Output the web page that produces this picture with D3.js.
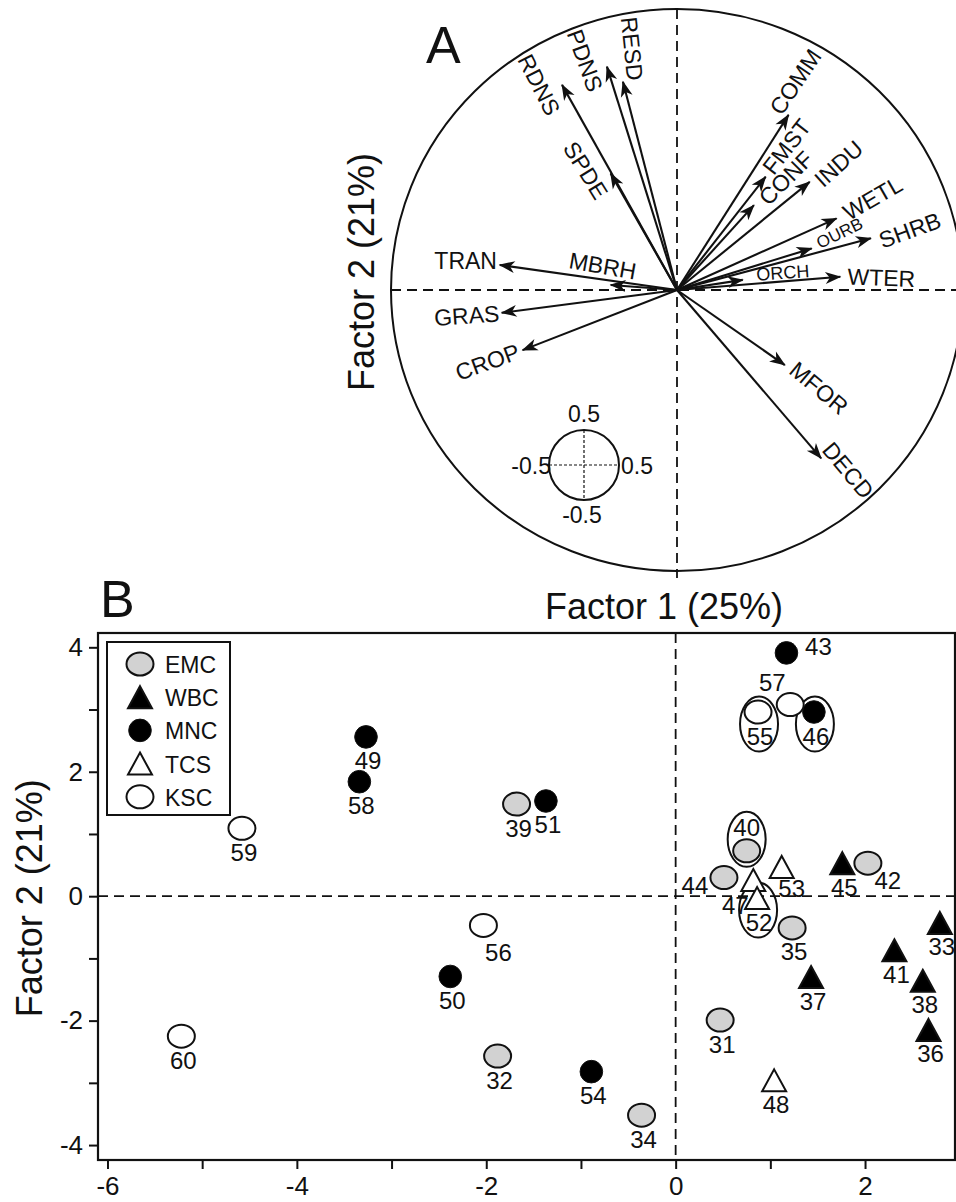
<!DOCTYPE html>
<html><head><meta charset="utf-8">
<script src="https://cdn.jsdelivr.net/npm/d3@7"></script>
<style>
body{margin:0;background:#fff}
svg{display:block}
text{font-family:Arial,"Liberation Sans",Helvetica,sans-serif;fill:#111}
</style>
</head><body>
<svg id="c" width="956" height="1202"></svg>
<script>
// ---------- Panel A : variable loadings ----------
const variables = ["RESD","PDNS","RDNS","SPDE","COMM","FMST","CONF","INDU","WETL","OURB","SHRB","ORCH","WTER","MBRH","TRAN","GRAS","CROP","MFOR","DECD"];
const loadF1 = [-0.189,-0.245,-0.402,-0.232,0.390,0.310,0.269,0.464,0.558,0.471,0.678,0.230,0.571,-0.232,-0.620,-0.613,-0.540,0.377,0.504];
const loadF2 = [0.741,0.795,0.730,0.415,0.623,0.403,0.302,0.385,0.255,0.148,0.184,0.036,0.047,0.018,0.089,-0.081,-0.214,-0.267,-0.599];
const scaleTicks = ["0.5","-0.5","-0.5","0.5"];

// ---------- Panel B : site scores ----------
const siteIds = [31,32,33,34,35,36,37,38,39,40,41,42,43,44,45,46,47,48,49,50,51,52,53,54,55,56,57,58,59,60];
const siteGroup = ["EMC","EMC","WBC","EMC","EMC","WBC","WBC","WBC","EMC","EMC","WBC","EMC","MNC","EMC","WBC","MNC","TCS","TCS","MNC","MNC","MNC","TCS","TCS","MNC","KSC","KSC","KSC","MNC","KSC","KSC"];
const siteF1 = [0.47,-1.88,2.79,-0.36,1.23,2.67,1.43,2.61,-1.68,0.75,2.31,2.03,1.17,0.51,1.76,1.46,0.82,1.04,-3.27,-2.38,-1.37,0.86,1.12,-0.89,0.87,-2.03,1.21,-3.34,-4.58,-5.22];
const siteF2 = [-1.99,-2.57,-0.43,-3.52,-0.51,-2.15,-1.30,-1.36,1.48,0.73,-0.87,0.53,3.91,0.30,0.53,2.96,0.26,-2.96,2.56,-1.29,1.53,-0.03,0.47,-2.82,2.96,-0.47,3.08,1.84,1.09,-2.25];
const circledSites = [40,46,52,55];
const groups = ["EMC","WBC","MNC","TCS","KSC"];
const xTickValues = [-6,-5,-4,-3,-2,-1,0,1,2];
const yTickValues = [-4,-3,-2,-1,0,1,2,3,4];

// ---------- layout / styles ----------
const FONT = 'Arial,"Liberation Sans",Helvetica,sans-serif';
const labelLayoutA = { // dx, dy (px from arrow tip), rotation, font size
  RESD:[9,-33,84,23], PDNS:[-22,-6,70,23], RDNS:[-23,0,63,23], SPDE:[-25,-3,58,23],
  COMM:[7,-33,-56,23], FMST:[21,-30,-52,23], CONF:[32,-27,-45,23], INDU:[29,-18,-42,23],
  WETL:[36,-20,-30,23], OURB:[28,-15,-26,17], SHRB:[39,-8,-20,23], ORCH:[40,-7,-4,18],
  WTER:[41,1,2,23], MBRH:[-8,-19,10,23], TRAN:[-34,-4,0,23], GRAS:[-35,3,-4,23],
  CROP:[-35,12,-20,23], MFOR:[34,23,40,23], DECD:[27,12,50,23]
};
const siteLabelOffset = {43:[32,-6],57:[-18,-22],40:[0,-23],44:[-29,8],47:[-18,25],53:[10,22],42:[20,17],56:[15,27]};
const defaultOffset = [2,24];
const groupStyle = {
  EMC:{shape:"ellipse",fill:"#d2d2d2"},
  WBC:{shape:"tri",fill:"#000"},
  MNC:{shape:"dot",fill:"#000"},
  TCS:{shape:"tri",fill:"#fff"},
  KSC:{shape:"ellipse",fill:"#fff"}
};

const svg = d3.select("#c");
svg.append("rect").attr("width",956).attr("height",1202).attr("fill","#fff");

// ===== Panel A =====
const xA = d3.scaleLinear().domain([-1,1]).range([391,963]);
const yA = d3.scaleLinear().domain([-1,1]).range([571,9]);
const gA = svg.append("g");

gA.append("ellipse")
  .attr("cx",xA(0)).attr("cy",yA(0))
  .attr("rx",xA(1)-xA(0)).attr("ry",yA(0)-yA(1))
  .attr("fill","none").attr("stroke","#111").attr("stroke-width",2);

gA.append("line").attr("x1",xA(-1)).attr("x2",956).attr("y1",yA(0)).attr("y2",yA(0))
  .attr("stroke","#111").attr("stroke-width",1.8).attr("stroke-dasharray","10,6");
gA.append("line").attr("x1",xA(0)).attr("x2",xA(0)).attr("y1",yA(1)).attr("y2",yA(-1)+7)
  .attr("stroke","#111").attr("stroke-width",1.8).attr("stroke-dasharray","10,6");

const defs = svg.append("defs");
defs.append("marker").attr("id","ah")
  .attr("viewBox","-16 -7 18 14").attr("refX",0).attr("refY",0)
  .attr("markerWidth",18).attr("markerHeight",14)
  .attr("markerUnits","userSpaceOnUse").attr("orient","auto")
  .append("path").attr("d","M1,0 L-15,-6 L-10.5,0 L-15,6 Z").attr("fill","#111");

variables.forEach((v,i)=>{
  const tx = xA(loadF1[i]), ty = yA(loadF2[i]);
  gA.append("line").attr("x1",xA(0)).attr("y1",yA(0)).attr("x2",tx).attr("y2",ty)
    .attr("stroke","#111").attr("stroke-width",2.1).attr("marker-end","url(#ah)");
  const L = labelLayoutA[v];
  gA.append("text").text(v)
    .attr("transform",`translate(${tx+L[0]},${ty+L[1]}) rotate(${L[2]})`)
    .attr("text-anchor","middle").attr("dominant-baseline","central")
    .attr("font-size",L[3]);
});

// inset scale circle
const ic = {x:584,y:465,r:35};
gA.append("circle").attr("cx",ic.x).attr("cy",ic.y).attr("r",ic.r)
  .attr("fill","none").attr("stroke","#111").attr("stroke-width",2);
gA.append("line").attr("x1",ic.x-ic.r).attr("x2",ic.x+ic.r).attr("y1",ic.y).attr("y2",ic.y)
  .attr("stroke","#111").attr("stroke-width",1.2).attr("stroke-dasharray","3,2");
gA.append("line").attr("x1",ic.x).attr("x2",ic.x).attr("y1",ic.y-ic.r).attr("y2",ic.y+ic.r)
  .attr("stroke","#111").attr("stroke-width",1.2).attr("stroke-dasharray","3,2");
gA.append("text").text(scaleTicks[0]).attr("x",ic.x).attr("y",ic.y-43).attr("text-anchor","middle").attr("font-size",23);
gA.append("text").text(scaleTicks[1]).attr("x",ic.x-2).attr("y",ic.y+58).attr("text-anchor","middle").attr("font-size",23);
gA.append("text").text(scaleTicks[2]).attr("x",ic.x-ic.r+2).attr("y",ic.y+9).attr("text-anchor","end").attr("font-size",23);
gA.append("text").text(scaleTicks[3]).attr("x",ic.x+ic.r+2).attr("y",ic.y+9).attr("text-anchor","start").attr("font-size",23);

gA.append("text").text("A").attr("x",426).attr("y",63).attr("font-size",52);
gA.append("text").text("Factor 2 (21%)")
  .attr("transform","translate(361,272) rotate(-90)")
  .attr("text-anchor","middle").attr("dominant-baseline","central").attr("font-size",36);
gA.append("text").text("Factor 1 (25%)").attr("x",664).attr("y",606)
  .attr("text-anchor","middle").attr("dominant-baseline","central").attr("font-size",36);

// ===== Panel B =====
const xB = d3.scaleLinear().domain([-6.1,2.95]).range([98,955]);
const yB = d3.scaleLinear().domain([-4.24,4.23]).range([1160,633]);
const gB = svg.append("g");

gB.append("text").text("B").attr("x",100).attr("y",617).attr("font-size",52);
gB.append("text").text("Factor 2 (21%)")
  .attr("transform",`translate(29,${yB(0)+2}) rotate(-90)`)
  .attr("text-anchor","middle").attr("dominant-baseline","central").attr("font-size",36);

// dashed zero lines
gB.append("line").attr("x1",xB.range()[0]).attr("x2",xB.range()[1]).attr("y1",yB(0)).attr("y2",yB(0))
  .attr("stroke","#111").attr("stroke-width",1.8).attr("stroke-dasharray","10,6");
gB.append("line").attr("x1",xB(0)).attr("x2",xB(0)).attr("y1",yB.range()[1]).attr("y2",yB.range()[0])
  .attr("stroke","#111").attr("stroke-width",1.8).attr("stroke-dasharray","10,6");

// axes
const fmt = d=> d%2===0 ? String(d) : "";
const xAxis = d3.axisBottom(xB).tickValues(xTickValues).tickSize(9).tickPadding(8).tickSizeOuter(0).tickFormat(fmt);
const yAxis = d3.axisLeft(yB).tickValues(yTickValues).tickSize(9).tickPadding(6).tickSizeOuter(0).tickFormat(fmt);
const gx = gB.append("g").attr("transform",`translate(0,${yB.range()[0]})`).call(xAxis);
const gy = gB.append("g").attr("transform",`translate(${xB.range()[0]},0)`).call(yAxis);
[gx,gy].forEach(g=>{
  g.select(".domain").remove();
  g.selectAll(".tick line").attr("stroke","#111").attr("stroke-width",2);
  g.selectAll(".tick text").attr("font-size",26).attr("font-family",FONT).attr("fill","#111");
});

// frame
gB.append("rect").attr("x",xB.range()[0]).attr("y",yB.range()[1])
  .attr("width",xB.range()[1]-xB.range()[0]).attr("height",yB.range()[0]-yB.range()[1])
  .attr("fill","none").attr("stroke","#111").attr("stroke-width",2.2);

function drawSymbol(g, group, cx, cy){
  const s = groupStyle[group];
  if(s.shape==="ellipse"){
    g.append("ellipse").attr("cx",cx).attr("cy",cy).attr("rx",13.5).attr("ry",11.5)
      .attr("fill",s.fill).attr("stroke","#111").attr("stroke-width",2);
  } else if(s.shape==="dot"){
    g.append("circle").attr("cx",cx).attr("cy",cy).attr("r",11.3)
      .attr("fill",s.fill).attr("stroke","#111").attr("stroke-width",1);
  } else {
    g.append("path").attr("d",`M${cx},${cy-11} L${cx+12},${cy+11} L${cx-12},${cy+11} Z`)
      .attr("fill",s.fill).attr("stroke","#111").attr("stroke-width",2).attr("stroke-linejoin","miter");
  }
}

// circled sites
circledSites.forEach(id=>{
  const i = siteIds.indexOf(id);
  const off = siteLabelOffset[id] || defaultOffset;
  const cx = xB(siteF1[i]), cy = yB(siteF2[i]);
  gB.append("ellipse").attr("cx",cx+off[0]/2).attr("cy",cy+off[1]/2)
    .attr("rx",19).attr("ry",27.5).attr("fill","none").attr("stroke","#111").attr("stroke-width",2);
});

// points, drawn group by group
const drawOrder = ["KSC","TCS","EMC","WBC","MNC"];
drawOrder.forEach(grp=>{
  siteIds.forEach((id,i)=>{
    if(siteGroup[i]!==grp) return;
    const cx = xB(siteF1[i]), cy = yB(siteF2[i]);
    drawSymbol(gB, grp, cx, cy);
    const off = siteLabelOffset[id] || defaultOffset;
    gB.append("text").text(id).attr("x",cx+off[0]).attr("y",cy+off[1])
      .attr("text-anchor","middle").attr("dominant-baseline","central").attr("font-size",24);
  });
});

// legend
const lg = gB.append("g");
lg.append("rect").attr("x",107).attr("y",642).attr("width",123).attr("height",173)
  .attr("fill","#fff").attr("stroke","#111").attr("stroke-width",2);
groups.forEach((grp,k)=>{
  const y = 664 + k*33.2;
  drawSymbol(lg, grp, 140, y);
  lg.append("text").text(grp).attr("x",165).attr("y",y+1)
    .attr("dominant-baseline","central").attr("font-size",23);
});
</script>
</body></html>
